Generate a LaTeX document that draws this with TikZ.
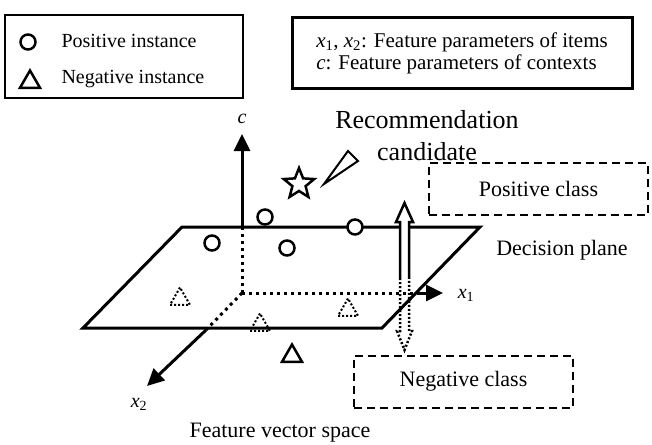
\documentclass[tikz,border=0pt]{standalone}
\usepackage{fontspec}
\setmainfont{Liberation Serif}
\usetikzlibrary{shapes.geometric,arrows.meta}

\newcommand{\xvar}[1]{\textit{x}\textsubscript{#1}}

\tikzset{
  legendfont/.style={font=\fontsize{20}{22}\selectfont},
  labelfont/.style={font=\fontsize{22}{26}\selectfont},
  classbox/.style={draw,line width=2pt,dash pattern=on 8pt off 5pt,
    minimum width=219pt,minimum height=52pt,labelfont},
  posinst/.style={draw,circle,line width=2.5pt,minimum size=15pt,inner sep=0pt,fill=white},
  neginst/.style={draw,regular polygon,regular polygon sides=3,line width=2.5pt,
    minimum size=23pt,inner sep=0pt},
  negdot/.style={neginst,line width=2pt,dash pattern=on 2pt off 2pt},
  axis/.style={line width=3pt,-{Triangle[length=17pt,width=16pt]}},
  dotline/.style={line width=3pt,dash pattern=on 3pt off 4pt},
}

\begin{document}
\begin{tikzpicture}[x=1pt,y=-1pt]
  \useasboundingbox (0,0) rectangle (652,444);

  % Legend boxes
  \node[draw,line width=2.5pt,minimum width=238pt,minimum height=83pt] (legend) at (124,56.5) {};
  \node[posinst] (legpos) at (28,42) {};
  \node[legendfont,anchor=west] (legpostext) at (58,41) {Positive instance};
  \node[neginst] (legneg) at (30,82) {};
  \node[legendfont,anchor=west] (legnegtext) at (58,79) {Negative instance};

  \node[draw,line width=3pt,minimum width=340pt,minimum height=70pt,
    font=\fontsize{21}{22}\selectfont,align=left] (params) at (462,53)
    {\xvar{1}, \xvar{2}: Feature parameters of items\\\textit{c}: Feature parameters of contexts};

  % Decision plane
  \draw[line width=3pt] (182,227) -- (480,227) -- (382,328) -- (83,328) -- cycle;

  % Axes
  \coordinate (O) at (242,293);
  \coordinate (ctop) at (242,134);
  \coordinate (cbase) at (242,227);
  \coordinate (xonestart) at (417,293);
  \coordinate (xonetip) at (443,293);
  \coordinate (xtwostart) at (206,330);
  \coordinate (xtwotip) at (147,386);
  \draw[dotline] (O) -- (cbase);
  \draw[dotline] (O) -- (xonestart);
  \draw[dotline] (O) -- (xtwostart);
  \draw[axis] (cbase) -- (ctop);
  \draw[axis] (xonestart) -- (xonetip);
  \draw[axis] (xtwostart) -- (xtwotip);
  \node[legendfont] (clabel) at (242,119) {\textit{c}};
  \node[legendfont] (xonelabel) at (466,295) {\xvar{1}};
  \node[legendfont] (xtwolabel) at (139,404) {\xvar{2}};

  % Instances
  \node[posinst] (pa) at (265,217) {};
  \node[posinst] (pb) at (355,227) {};
  \node[posinst] (pc) at (212,243) {};
  \node[posinst] (pd) at (287,248) {};
  \node[negdot] (na) at (180,299) {};
  \node[negdot] (nb) at (260,325) {};
  \node[negdot] (nc) at (348,310) {};
  \node[neginst] (nd) at (292,356) {};

  % Recommendation candidate
  \node[draw,star,star points=5,star point ratio=2.3,line width=2.5pt,
    minimum size=32pt,inner sep=0pt] (cand) at (299,184) {};
  \draw[line width=2pt] (324,184) -- (348,151) -- (358,161) -- cycle;
  \node[font=\fontsize{26}{32}\selectfont,align=center] (reco) at (427,136)
    {Recommendation\\candidate};

  % Class arrows
  \draw[line width=2.5pt,fill=white] (400,278) -- (400,222) -- (396,222) -- (404.5,203)
    -- (413,222) -- (409,222) -- (409,278);
  \draw[line width=2.5pt,dash pattern=on 2pt off 2pt] (400,278) -- (400,331) -- (397,331)
    -- (404.5,350) -- (412,331) -- (409,331) -- (409,278);

  % Class boxes and labels
  \node[classbox] (posclass) at (538.5,188.5) {Positive class};
  \node[classbox] (negclass) at (463.5,381.5) {Negative class};
  \node[labelfont] (plane) at (562,250) {Decision plane};
  \node[labelfont] (space) at (280,433) {Feature vector space};
\end{tikzpicture}
\end{document}
